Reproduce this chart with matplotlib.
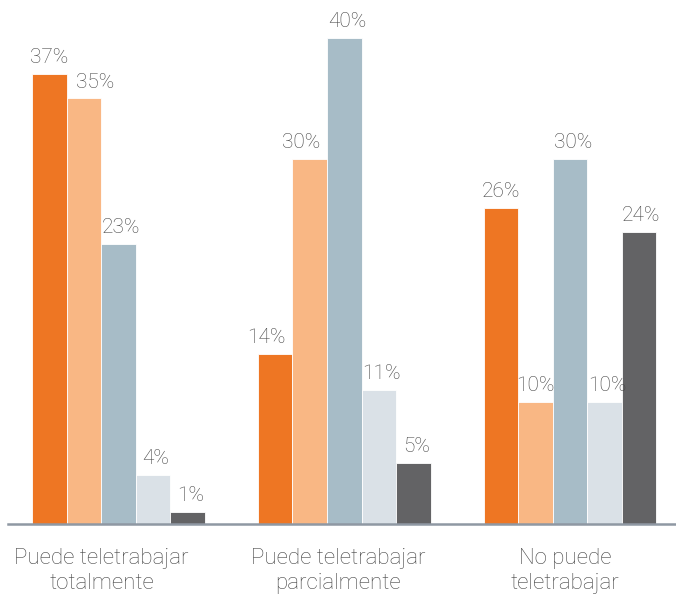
import matplotlib
matplotlib.use("Agg")
import matplotlib.pyplot as plt
import matplotlib.transforms as mtransforms
import numpy as np

categories = ["Puede teletrabajar\ntotalmente", "Puede teletrabajar\nparcialmente", "No puede\nteletrabajar"]
series_1 = [37, 14, 26]
series_2 = [35, 30, 10]
series_3 = [23, 40, 30]
series_4 = [4, 11, 10]
series_5 = [1, 5, 24]
series = [series_1, series_2, series_3, series_4, series_5]
colors = ["#EE7623", "#F9B784", "#A7BCC7", "#DAE1E7", "#636365"]

# small horizontal nudges (points) for labels that would crowd each other
label_dx = [
    [0, -6, 0],
    [8, -6, 0],
    [2, 2, 2],
    [2, 2, 2],
    [2, 2, 1],
]
# horizontal shift (pixels) of the category captions
caption_dx = [-17, -6, -5]

plt.rcParams["font.family"] = ["Roboto", "DejaVu Sans"]

fig = plt.figure(figsize=(6.76, 5.94), dpi=100)
ax = fig.add_axes([8 / 676, 70 / 594, 1 - 8 / 676, 524 / 594])

x = np.arange(len(categories))
width = 0.153
n = len(series)
for i, (vals, col) in enumerate(zip(series, colors)):
    pos = x + (i - (n - 1) / 2) * width
    ax.bar(pos, vals, width=width, color=col, edgecolor="white", linewidth=0.6, zorder=2)
    for j, (p, v) in enumerate(zip(pos, vals)):
        ax.annotate(f"{v}%", (p, v), xytext=(label_dx[i][j], 5), textcoords="offset points",
                    ha="center", va="bottom", fontsize=15, color="#444444", fontweight="light")

ax.set_xlim(-0.489, 2.469)
ax.set_ylim(0, 43.1)
for s in ["top", "right", "left"]:
    ax.spines[s].set_visible(False)
ax.spines["bottom"].set_color("#8f98a3")
ax.spines["bottom"].set_linewidth(1.8)
ax.set_yticks([])
ax.set_xticks(x)
ax.set_xticklabels(categories, fontsize=16, color="#444444", linespacing=1.25, fontweight="light")
ax.tick_params(axis="x", length=0, pad=17)
for lbl, dx in zip(ax.get_xticklabels(), caption_dx):
    lbl.set_transform(lbl.get_transform() + mtransforms.ScaledTranslation(dx / 100, 0, fig.dpi_scale_trans))

fig.savefig("out.png", dpi=100, facecolor="white")
